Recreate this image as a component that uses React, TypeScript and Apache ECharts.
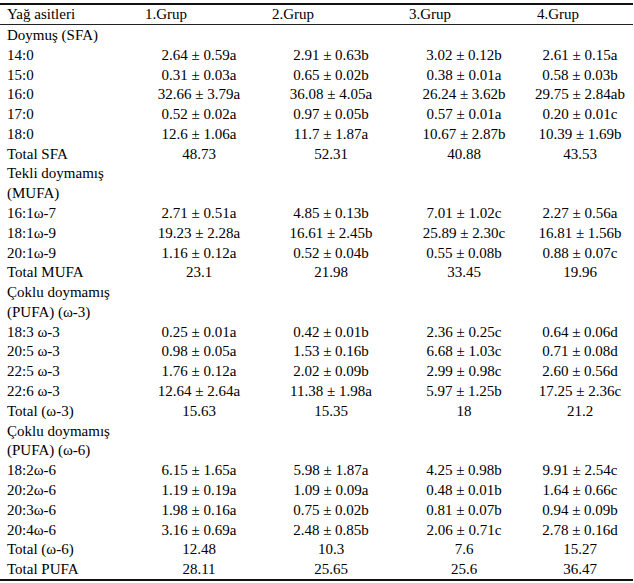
import React, { useEffect, useRef } from "react";
import * as echarts from "echarts";

const headers = ["Yağ asitleri", "1.Grup", "2.Grup", "3.Grup", "4.Grup"];

const rowLabels = [
  "Doymuş (SFA)", "14:0", "15:0", "16:0", "17:0", "18:0", "Total SFA",
  "Tekli doymamış", "(MUFA)", "16:1ω-7", "18:1ω-9", "20:1ω-9", "Total MUFA",
  "Çoklu doymamış", "(PUFA) (ω-3)", "18:3 ω-3", "20:5 ω-3", "22:5 ω-3", "22:6 ω-3", "Total (ω-3)",
  "Çoklu doymamış", "(PUFA) (ω-6)", "18:2ω-6", "20:2ω-6", "20:3ω-6", "20:4ω-6", "Total (ω-6)", "Total PUFA",
];

const grup1 = [
  "", "2.64 ± 0.59a", "0.31 ± 0.03a", "32.66 ± 3.79a", "0.52 ± 0.02a", "12.6 ± 1.06a", "48.73",
  "", "", "2.71 ± 0.51a", "19.23 ± 2.28a", "1.16 ± 0.12a", "23.1",
  "", "", "0.25 ± 0.01a", "0.98 ± 0.05a", "1.76 ± 0.12a", "12.64 ± 2.64a", "15.63",
  "", "", "6.15 ± 1.65a", "1.19 ± 0.19a", "1.98 ± 0.16a", "3.16 ± 0.69a", "12.48", "28.11",
];
const grup2 = [
  "", "2.91 ± 0.63b", "0.65 ± 0.02b", "36.08 ± 4.05a", "0.97 ± 0.05b", "11.7 ± 1.87a", "52.31",
  "", "", "4.85 ± 0.13b", "16.61 ± 2.45b", "0.52 ± 0.04b", "21.98",
  "", "", "0.42 ± 0.01b", "1.53 ± 0.16b", "2.02 ± 0.09b", "11.38 ± 1.98a", "15.35",
  "", "", "5.98 ± 1.87a", "1.09 ± 0.09a", "0.75 ± 0.02b", "2.48 ± 0.85b", "10.3", "25.65",
];
const grup3 = [
  "", "3.02 ± 0.12b", "0.38 ± 0.01a", "26.24 ± 3.62b", "0.57 ± 0.01a", "10.67 ± 2.87b", "40.88",
  "", "", "7.01 ± 1.02c", "25.89 ± 2.30c", "0.55 ± 0.08b", "33.45",
  "", "", "2.36 ± 0.25c", "6.68 ± 1.03c", "2.99 ± 0.98c", "5.97 ± 1.25b", "18",
  "", "", "4.25 ± 0.98b", "0.48 ± 0.01b", "0.81 ± 0.07b", "2.06 ± 0.71c", "7.6", "25.6",
];
const grup4 = [
  "", "2.61 ± 0.15a", "0.58 ± 0.03b", "29.75 ± 2.84ab", "0.20 ± 0.01c", "10.39 ± 1.69b", "43.53",
  "", "", "2.27 ± 0.56a", "16.81 ± 1.56b", "0.88 ± 0.07c", "19.96",
  "", "", "0.64 ± 0.06d", "0.71 ± 0.08d", "2.60 ± 0.56d", "17.25 ± 2.36c", "21.2",
  "", "", "9.91 ± 2.54c", "1.64 ± 0.66c", "0.94 ± 0.09b", "2.78 ± 0.16d", "15.27", "36.47",
];

const groups = [grup1, grup2, grup3, grup4];

export default function App() {
  const ref = useRef<HTMLDivElement>(null);
  useEffect(() => {
    if (!ref.current) return;
    const chart = echarts.init(ref.current, null, { renderer: "svg" });
    const fontFamily = "Liberation Serif";
    const fontSize = 15;
    const fill = "#000";
    const headerX = [7, 145, 272, 409, 537];
    const colCenters = [199, 331, 464, 580];
    const rowY0 = 35;
    const rowStep = 19.78;
    const elements: any[] = [];

    elements.push({ type: "line", shape: { x1: 0, y1: 4, x2: 633, y2: 4 }, style: { stroke: "#111", lineWidth: 2 } });
    elements.push({ type: "line", shape: { x1: 0, y1: 24.5, x2: 633, y2: 24.5 }, style: { stroke: "#222", lineWidth: 1 } });
    elements.push({ type: "line", shape: { x1: 0, y1: 580, x2: 633, y2: 580 }, style: { stroke: "#111", lineWidth: 2 } });

    const txt = (text: string, x: number, y: number, align: string) => ({
      type: "text", x, y,
      style: { text, fontFamily, fontSize, fill, textAlign: align, textVerticalAlign: "middle" },
    });

    headers.forEach((h, i) => elements.push(txt(h, headerX[i], 14, "left")));

    rowLabels.forEach((lab, r) => {
      const y = rowY0 + r * rowStep;
      elements.push(txt(lab, 7, y, "left"));
      groups.forEach((g, c) => {
        if (g[r]) elements.push(txt(g[r], colCenters[c], y, "center"));
      });
    });

    chart.setOption({
      animation: false,
      backgroundColor: "#ffffff",
      graphic: { elements },
    });
    return () => chart.dispose();
  }, []);
  return (
    <div
      ref={ref}
      style={{ position: "absolute", left: 0, top: 0, width: 634, height: 583 }}
    />
  );
}
